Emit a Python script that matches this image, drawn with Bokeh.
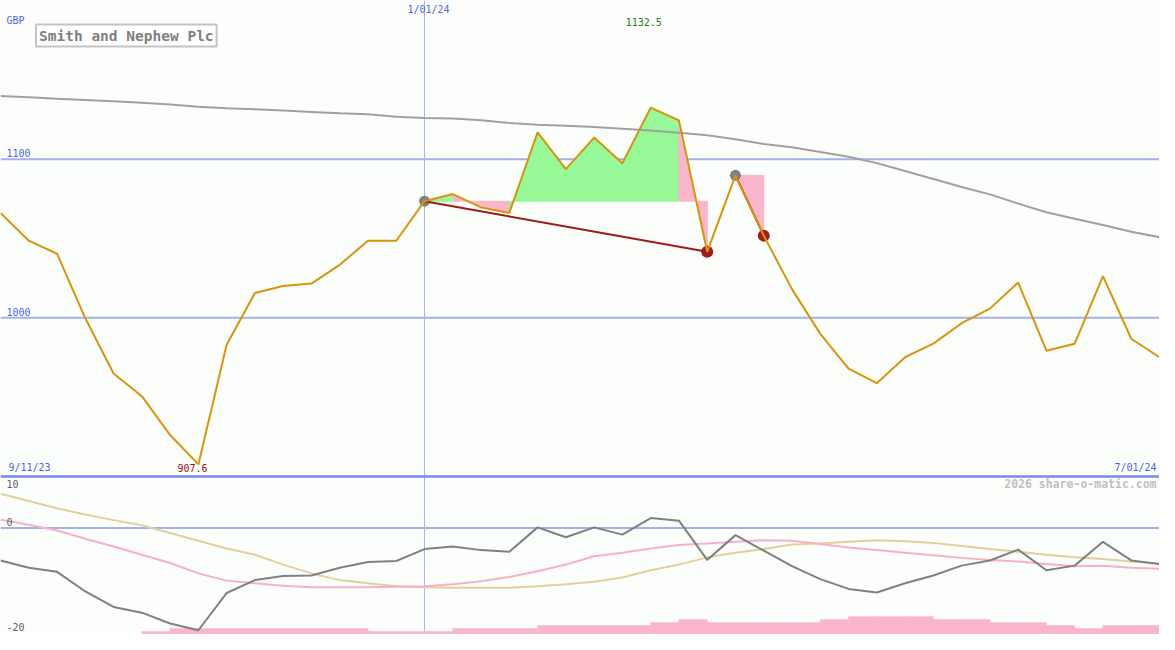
from bokeh.plotting import figure
from bokeh.models import Range1d, Span, Label
from bokeh.embed import file_html
from bokeh.resources import INLINE

# ---------------- data ----------------
tick_labels = ["9/11/23", "1/01/24", "7/01/24"]
tick_index = [0, 15, 41]
title_text = "Smith and Nephew Plc"
currency = "GBP"

price = [1066.1, 1048.6, 1040.4, 999.7, 964.9, 950.6, 926.1, 907.6, 983.0, 1015.6,
         1020.1, 1021.6, 1033.4, 1048.6, 1048.6, 1073.5, 1078.0, 1069.6, 1066.1, 1116.9,
         1093.7, 1113.6, 1097.4, 1132.5, 1124.4, 1041.6, 1089.8, 1051.8, 1018.1, 989.9,
         968.0, 958.8, 975.2, 983.7, 996.6, 1005.8, 1022.2, 979.3, 983.7, 1026.3,
         986.8, 975.2]

ma_long = [1139.8, 1139.0, 1138.0, 1137.3, 1136.5, 1135.5, 1134.4, 1133.1, 1132.1, 1131.4,
           1130.6, 1129.8, 1129.0, 1128.3, 1126.8, 1125.9, 1125.6, 1124.5, 1122.8, 1121.7,
           1121.0, 1120.3, 1119.2, 1118.0, 1116.6, 1115.0, 1112.5, 1109.5, 1107.5, 1104.5,
           1101.5, 1097.5, 1092.5, 1087.5, 1082.5, 1077.8, 1072.0, 1066.5, 1062.5, 1058.5,
           1054.3, 1050.8]

osc = [-6.3, -7.7, -8.5, -12.3, -15.3, -16.4, -18.5, -19.8, -12.6, -10.1,
       -9.3, -9.2, -7.7, -6.6, -6.4, -4.1, -3.6, -4.3, -4.6, 0.1,
       -1.8, 0.1, -1.3, 1.9, 1.4, -6.2, -1.4, -4.4, -7.4, -9.9,
       -11.8, -12.5, -10.7, -9.2, -7.3, -6.3, -4.2, -8.2, -7.3, -2.7,
       -6.3, -7.0]

osc_pink = [1.6, 0.6, -0.5, -2.1, -3.6, -5.2, -6.8, -8.8, -10.2, -10.7,
            -11.2, -11.5, -11.5, -11.5, -11.4, -11.3, -10.9, -10.3, -9.5, -8.4,
            -7.1, -5.5, -4.8, -4.0, -3.3, -3.0, -2.7, -2.4, -2.5, -3.1,
            -3.8, -4.3, -4.8, -5.3, -5.8, -6.2, -6.5, -7.0, -7.4, -7.3,
            -7.7, -7.9]

osc_tan = [6.6, 5.2, 3.8, 2.6, 1.5, 0.5, -1.0, -2.5, -4.0, -5.2,
           -7.1, -8.8, -10.1, -10.7, -11.3, -11.5, -11.6, -11.6, -11.6, -11.3,
           -10.9, -10.4, -9.6, -8.2, -7.1, -5.7, -4.8, -4.1, -3.2, -3.0,
           -2.7, -2.4, -2.6, -2.9, -3.5, -4.1, -4.6, -5.2, -5.7, -6.0,
           -6.5, -6.9]

vol = [0, 0, 0, 0, 0, 1, 2, 2, 2, 2, 2, 2, 2, 1, 1, 1, 2, 2, 2, 3,
       3, 3, 3, 4, 5, 4, 4, 4, 4, 5, 6, 6, 6, 5, 5, 4, 4, 3, 2, 3,
       3, 0]

signals = [(15, 25), (26, 27)]  # (start index, end index)

# ---------------- styling ----------------
W, H = 1159, 634
BG = "#fcfefc"
FONT = "DejaVu Sans Mono"
BLUE_TXT = "#4f5ff0"
GRID = "#a3b1f0"
BORDER = "#7a88ec"
PRICE = "#d8940a"
GREEN = "#96f896"
PINK = "#f9b6ca"

n = len(price)
x = list(range(n))

p = figure(width=W, height=H, x_range=Range1d(0, n - 1), y_range=Range1d(800.4, 1200),
           output_backend="svg", toolbar_location=None, min_border=0,
           x_axis_location=None, y_axis_location=None,
           background_fill_color=BG, border_fill_color=BG, outline_line_color=None)
p.grid.visible = False
p.extra_y_ranges = {"osc": Range1d(-20.62, 102.0)}

# grid lines
for lvl in (1100, 1000):
    p.add_layout(Span(location=lvl, dimension="width", line_color=GRID, line_width=2, level="underlay"))
p.add_layout(Span(location=0, dimension="width", line_color=GRID, line_width=2,
                  y_range_name="osc", level="underlay"))
p.add_layout(Span(location=tick_index[1], dimension="height", line_color="#a8b4ee",
                  line_width=1, level="underlay"))
p.add_layout(Span(location=900, dimension="width", line_color=BORDER, line_width=2.5, level="underlay"))

# volume-like bars in lower panel
k = 0.575
bx = [i for i in x if vol[i] > 0]
p.quad(left=bx, right=[i + 1 for i in bx], bottom=[-20.62] * len(bx),
       top=[-20.62 + vol[i] * k for i in bx], y_range_name="osc",
       fill_color=PINK, line_color=PINK, line_width=0.6)

# signal fills
xs_list, ys_list, cols = [], [], []
for s, e in signals:
    base = price[s]
    for i in range(s, e):
        xs_list.append([i, i, i + 1, i + 1])
        ys_list.append([base, price[i], price[i + 1], base])
        cols.append(GREEN if price[i + 1] > base else PINK)
p.patches(xs_list, ys_list, fill_color=cols, line_color=cols, line_width=1)

# long moving average
p.line(x, ma_long, line_color="#a0a0a0", line_width=2)

# signal dots & connectors
p.scatter([s for s, e in signals], [price[s] for s, e in signals], size=11,
          fill_color="#808080", line_color=None)
p.scatter([e for s, e in signals], [price[e] for s, e in signals], size=12,
          fill_color="#a31c1c", line_color=None)
for s, e in signals:
    p.line([s, e], [price[s], price[e]], line_color="#a01818", line_width=2)

# price
p.line(x, price, line_color=PRICE, line_width=2)

# lower panel lines
p.line(x, osc_tan, y_range_name="osc", line_color="#e4cf9c", line_width=2)
p.line(x, osc_pink, y_range_name="osc", line_color="#f8b0c8", line_width=2)
p.line(x, osc, y_range_name="osc", line_color="#808080", line_width=2)


def lab(text, xpx, ypx, color, size, align="left", bold=False, **kw):
    p.add_layout(Label(x=xpx * W / 1175, y=(650 - ypx) * H / 650, x_units="screen", y_units="screen",
                       text=text, text_align=align, text_baseline="middle", text_font=FONT,
                       text_font_size=f"{size}px", text_color=color,
                       text_font_style="bold" if bold else "normal", **kw))


imin = price.index(min(price))
imax = price.index(max(price))
xpx = lambda i: i * 1175 / (n - 1)

lab(currency, 6, 20, BLUE_TXT, 10)
lab("1100", 6, 156, BLUE_TXT, 10)
lab("1000", 6, 319, BLUE_TXT, 10)
lab(tick_labels[0], 8, 479, BLUE_TXT, 10)
lab(tick_labels[1], xpx(tick_index[1]) + 4, 9, BLUE_TXT, 10, align="center")
lab(tick_labels[2], 1172, 479, BLUE_TXT, 10, align="right")
lab(f"{min(price):.1f}", xpx(imin) - 6, 479, "#a01010", 10, align="center")
lab(f"{max(price):.1f}", xpx(imax) - 7, 22, "#208020", 10, align="center")
lab("10", 6, 496, "#606060", 10)
lab("0", 6, 535, "#606060", 10)
lab("-20", 6, 642, "#606060", 10)
lab("2026 share-o-matic.com", 1172, 496, "#c0c0c0", 11.5, align="right", bold=True)
lab(title_text, 36, 36, "#808080", 14.5, bold=True,
    background_fill_color="white", border_line_color="#c4c4c4", border_line_width=2, padding=3)

open("out.html", "w").write(file_html(p, INLINE))
